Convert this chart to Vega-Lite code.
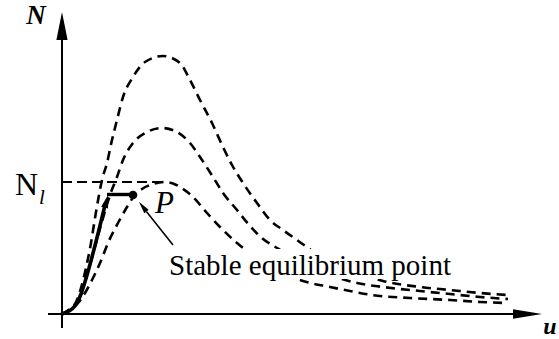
{
  "$schema": "https://vega.github.io/schema/vega-lite/v6.json",
  "width": 559,
  "height": 339,
  "padding": 0,
  "autosize": "none",
  "background": "white",
  "config": {"view": {"stroke": null}, "text": {"font": "Liberation Serif, Times New Roman, serif"}},
  "datasets": {
    "curves": [
      {"curve": "low", "u": 0, "N": 0}, {"curve": "low", "u": 0.8, "N": 0.5}, {"curve": "low", "u": 1.6, "N": 1.1},
      {"curve": "low", "u": 2.3, "N": 2.1}, {"curve": "low", "u": 3.0, "N": 3.4}, {"curve": "low", "u": 3.8, "N": 5.1},
      {"curve": "low", "u": 4.6, "N": 7.1}, {"curve": "low", "u": 5.6, "N": 9.1}, {"curve": "low", "u": 6.5, "N": 10.7},
      {"curve": "low", "u": 7.3, "N": 11.9}, {"curve": "low", "u": 8.0, "N": 12.5}, {"curve": "low", "u": 9.1, "N": 13.0},
      {"curve": "low", "u": 10.3, "N": 13.2}, {"curve": "low", "u": 11.1, "N": 13.05}, {"curve": "low", "u": 11.8, "N": 12.7},
      {"curve": "low", "u": 13.1, "N": 11.7}, {"curve": "low", "u": 14.5, "N": 10.1}, {"curve": "low", "u": 15.8, "N": 8.7},
      {"curve": "low", "u": 17.5, "N": 7.1}, {"curve": "low", "u": 19.8, "N": 5.4}, {"curve": "low", "u": 21.8, "N": 4.2},
      {"curve": "low", "u": 24.1, "N": 3.3}, {"curve": "low", "u": 26.8, "N": 2.7}, {"curve": "low", "u": 28.8, "N": 2.3},
      {"curve": "low", "u": 31.0, "N": 1.9}, {"curve": "low", "u": 34.8, "N": 1.6}, {"curve": "low", "u": 38.8, "N": 1.4},
      {"curve": "low", "u": 41.8, "N": 1.2}, {"curve": "low", "u": 44.6, "N": 1.1},

      {"curve": "mid", "u": 0, "N": 0}, {"curve": "mid", "u": 0.8, "N": 0.4}, {"curve": "mid", "u": 1.5, "N": 1.2},
      {"curve": "mid", "u": 2.1, "N": 2.6}, {"curve": "mid", "u": 2.7, "N": 4.6}, {"curve": "mid", "u": 3.4, "N": 7.1},
      {"curve": "mid", "u": 4.1, "N": 9.6}, {"curve": "mid", "u": 4.8, "N": 11.9}, {"curve": "mid", "u": 5.5, "N": 13.7},
      {"curve": "mid", "u": 6.1, "N": 15.4}, {"curve": "mid", "u": 7.1, "N": 17.1}, {"curve": "mid", "u": 8.5, "N": 18.2},
      {"curve": "mid", "u": 10.0, "N": 18.6}, {"curve": "mid", "u": 11.5, "N": 18.2}, {"curve": "mid", "u": 12.8, "N": 17.1},
      {"curve": "mid", "u": 13.8, "N": 15.7}, {"curve": "mid", "u": 15.1, "N": 13.7}, {"curve": "mid", "u": 16.1, "N": 12.1},
      {"curve": "mid", "u": 17.5, "N": 10.4}, {"curve": "mid", "u": 18.8, "N": 8.8}, {"curve": "mid", "u": 20.0, "N": 7.6},
      {"curve": "mid", "u": 21.5, "N": 6.6}, {"curve": "mid", "u": 23.8, "N": 5.2}, {"curve": "mid", "u": 26.8, "N": 3.9},
      {"curve": "mid", "u": 29.5, "N": 3.1}, {"curve": "mid", "u": 32.1, "N": 2.7}, {"curve": "mid", "u": 35.8, "N": 2.3},
      {"curve": "mid", "u": 38.8, "N": 2.0}, {"curve": "mid", "u": 41.8, "N": 1.7}, {"curve": "mid", "u": 44.6, "N": 1.5},

      {"curve": "high", "u": 0, "N": 0}, {"curve": "high", "u": 0.8, "N": 0.4}, {"curve": "high", "u": 1.4, "N": 1.2},
      {"curve": "high", "u": 1.9, "N": 2.6}, {"curve": "high", "u": 2.4, "N": 4.6}, {"curve": "high", "u": 2.9, "N": 7.1},
      {"curve": "high", "u": 3.3, "N": 9.6}, {"curve": "high", "u": 3.7, "N": 11.9}, {"curve": "high", "u": 4.0, "N": 13.4},
      {"curve": "high", "u": 4.5, "N": 15.1}, {"curve": "high", "u": 5.0, "N": 17.4}, {"curve": "high", "u": 5.5, "N": 19.4},
      {"curve": "high", "u": 6.1, "N": 21.7}, {"curve": "high", "u": 7.1, "N": 23.7}, {"curve": "high", "u": 8.3, "N": 25.2},
      {"curve": "high", "u": 10.1, "N": 25.8}, {"curve": "high", "u": 11.8, "N": 25.1}, {"curve": "high", "u": 12.8, "N": 23.4},
      {"curve": "high", "u": 13.8, "N": 21.4}, {"curve": "high", "u": 15.0, "N": 19.1}, {"curve": "high", "u": 16.1, "N": 16.7},
      {"curve": "high", "u": 17.0, "N": 14.9}, {"curve": "high", "u": 18.1, "N": 13.1}, {"curve": "high", "u": 19.5, "N": 11.1},
      {"curve": "high", "u": 20.8, "N": 9.4}, {"curve": "high", "u": 22.1, "N": 8.4}, {"curve": "high", "u": 23.5, "N": 7.4},
      {"curve": "high", "u": 25.8, "N": 5.8}, {"curve": "high", "u": 28.8, "N": 4.4}, {"curve": "high", "u": 32.1, "N": 3.3},
      {"curve": "high", "u": 35.8, "N": 2.7}, {"curve": "high", "u": 38.8, "N": 2.4}, {"curve": "high", "u": 41.8, "N": 2.1},
      {"curve": "high", "u": 44.6, "N": 1.9}
    ],
    "levelNl": [{"u": 0, "N": 13.2}, {"u": 10.1, "N": 13.2}],
    "labelBox": [{"u": 9.8, "N": 3.5, "u2": 39.3, "N2": 6.5}],
    "trajectory": [
      {"u": 0, "N": 0}, {"u": 0.5, "N": 0.2}, {"u": 1.0, "N": 0.5}, {"u": 1.5, "N": 1.1},
      {"u": 1.9, "N": 2.0}, {"u": 2.2, "N": 2.9}, {"u": 4.28, "N": 10.8}
    ],
    "plateau": [{"u": 4.5, "N": 11.95}, {"u": 7.1, "N": 11.95}],
    "trajHead": [{"u": 4.43, "N": 11.27}],
    "pointP": [{"u": 7.1, "N": 11.9}],
    "pointer": [{"u": 11.1, "N": 6.9}, {"u": 8.44, "N": 10.26}],
    "pointerHead": [{"u": 8.07, "N": 10.73}],
    "axisV": [{"u": 0, "N": -1.4}, {"u": 0, "N": 27.6}],
    "axisH": [{"u": -1.4, "N": 0}, {"u": 45.3, "N": 0}],
    "headV": [{"u": 0, "N": 28.8}],
    "headH": [{"u": 46.55, "N": 0}]
  },
  "encoding": {
    "x": {"field": "u", "type": "quantitative", "scale": {"domain": [-6.2, 49.7], "nice": false, "zero": false}, "axis": null},
    "y": {"field": "N", "type": "quantitative", "scale": {"domain": [-2.5, 31.4], "nice": false, "zero": false}, "axis": null}
  },
  "layer": [
    {
      "data": {"name": "curves"},
      "mark": {"type": "line", "interpolate": "monotone", "color": "black", "strokeWidth": 2.6, "strokeDash": [9, 6]},
      "encoding": {"detail": {"field": "curve"}}
    },
    {
      "data": {"name": "levelNl"},
      "mark": {"type": "line", "color": "black", "strokeWidth": 2.2, "strokeDash": [10, 5]},
      "encoding": {}
    },
    {
      "data": {"name": "labelBox"},
      "mark": {"type": "rect", "color": "white"},
      "encoding": {"x2": {"field": "u2"}, "y2": {"field": "N2"}}
    },
    {
      "data": {"values": [{"u": 24.8, "N": 3.9, "label": "Stable equilibrium point"}]},
      "mark": {"type": "text", "fontSize": 29, "align": "center", "baseline": "alphabetic", "color": "black"},
      "encoding": {"text": {"field": "label"}}
    },
    {
      "data": {"name": "trajectory"},
      "mark": {"type": "line", "interpolate": "monotone", "color": "black", "strokeWidth": 3.6, "strokeCap": "round"},
      "encoding": {}
    },
    {
      "data": {"name": "plateau"},
      "mark": {"type": "line", "color": "black", "strokeWidth": 3.4},
      "encoding": {}
    },
    {
      "data": {"name": "trajHead"},
      "mark": {"type": "point", "shape": "M0,-1L0.55,1L-0.55,1Z", "filled": true, "color": "black", "opacity": 1, "size": 169, "angle": 15},
      "encoding": {}
    },
    {
      "data": {"name": "pointP"},
      "mark": {"type": "point", "shape": "circle", "filled": true, "color": "black", "opacity": 1, "size": 75},
      "encoding": {}
    },
    {
      "data": {"name": "pointer"},
      "mark": {"type": "line", "color": "black", "strokeWidth": 1.6},
      "encoding": {}
    },
    {
      "data": {"name": "pointerHead"},
      "mark": {"type": "point", "shape": "M0,-1L0.45,1L-0.45,1Z", "filled": true, "color": "black", "opacity": 1, "size": 150, "angle": -38},
      "encoding": {}
    },
    {
      "data": {"name": "axisV"},
      "mark": {"type": "line", "color": "black", "strokeWidth": 2},
      "encoding": {"order": {"field": "N"}}
    },
    {
      "data": {"name": "axisH"},
      "mark": {"type": "line", "color": "black", "strokeWidth": 2},
      "encoding": {}
    },
    {
      "data": {"name": "headV"},
      "mark": {"type": "point", "shape": "M0,-1L0.4,1L-0.4,1Z", "filled": true, "color": "black", "opacity": 1, "size": 784},
      "encoding": {}
    },
    {
      "data": {"name": "headH"},
      "mark": {"type": "point", "shape": "M1,0L-1,-0.33L-1,0.33Z", "filled": true, "color": "black", "opacity": 1, "size": 841},
      "encoding": {}
    },
    {
      "data": {"values": [{"u": -2.6, "N": 29.8, "label": "N"}]},
      "mark": {"type": "text", "fontSize": 27, "fontWeight": "bold", "fontStyle": "italic", "align": "center", "baseline": "middle", "color": "black"},
      "encoding": {"text": {"field": "label"}}
    },
    {
      "data": {"values": [{"u": 48.8, "N": -2.0, "label": "u"}]},
      "mark": {"type": "text", "fontSize": 24, "fontWeight": "bold", "fontStyle": "italic", "align": "center", "baseline": "alphabetic", "color": "black"},
      "encoding": {"text": {"field": "label"}}
    },
    {
      "data": {"values": [{"u": -4.7, "N": 11.9, "label": "N"}]},
      "mark": {"type": "text", "fontSize": 32, "align": "left", "baseline": "alphabetic", "color": "black"},
      "encoding": {"text": {"field": "label"}}
    },
    {
      "data": {"values": [{"u": -2.3, "N": 11.0, "label": "l"}]},
      "mark": {"type": "text", "fontSize": 21, "fontStyle": "italic", "align": "left", "baseline": "alphabetic", "color": "black"},
      "encoding": {"text": {"field": "label"}}
    },
    {
      "data": {"values": [{"u": 9.3, "N": 10.1, "label": "P"}]},
      "mark": {"type": "text", "fontSize": 31, "fontStyle": "italic", "align": "left", "baseline": "alphabetic", "color": "black"},
      "encoding": {"text": {"field": "label"}}
    }
  ]
}
